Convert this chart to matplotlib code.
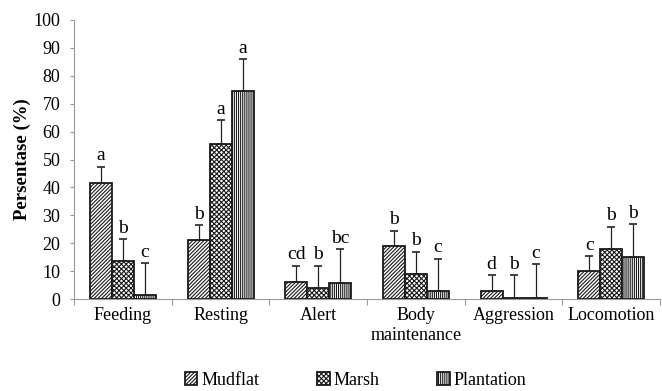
import numpy as np
import matplotlib
matplotlib.use("Agg")
import matplotlib.pyplot as plt

plt.rcParams['font.family'] = ['Liberation Serif', 'DejaVu Serif']
plt.rcParams['hatch.linewidth'] = 0.8

categories = ["Feeding", "Resting", "Alert", "Body\nmaintenance", "Aggression", "Locomotion"]
series = ["Mudflat", "Marsh", "Plantation"]
mudflat = [41.5, 21.0, 6.0, 19.0, 3.0, 10.0]
marsh = [13.5, 55.5, 4.0, 9.0, 0.3, 18.0]
plantation = [1.5, 74.5, 5.8, 3.0, 0.5, 15.0]
mudflat_err = [6.0, 5.5, 6.0, 5.5, 5.5, 5.5]
marsh_err = [8.0, 8.5, 8.0, 8.0, 8.2, 8.0]
plantation_err = [11.5, 11.5, 12.2, 11.5, 12.0, 12.0]
mudflat_lab = ["a", "b", "cd", "b", "d", "c"]
marsh_lab = ["b", "a", "b", "b", "b", "b"]
plantation_lab = ["c", "a", "bc", "c", "c", "b"]

values = [mudflat, marsh, plantation]
errors = [mudflat_err, marsh_err, plantation_err]
letters = [mudflat_lab, marsh_lab, plantation_lab]
hatches = ["/////////", "xxxxxxx", "||||||||"]

fig = plt.figure(figsize=(6.62, 3.91), dpi=100)
ax = fig.add_axes([0.112, 0.235, 0.885, 0.714])

x = np.arange(len(categories))
w = 0.225
for i in range(3):
    pos = x + (i - 1) * w
    ax.bar(pos, values[i], w, color="white", edgecolor="#1a1a1a", linewidth=1.3,
           hatch=hatches[i], label=series[i], zorder=2)
    ax.errorbar(pos, values[i], yerr=[np.zeros(len(x)), errors[i]], fmt="none",
                ecolor="#222222", elinewidth=0.9, capsize=3, capthick=1.2, zorder=3)
    for p, v, e, t in zip(pos, values[i], errors[i], letters[i]):
        ax.text(p, v + e + 0.8, t, ha="center", va="bottom", fontsize=14)

ax.set_xlim(-0.5, len(categories) - 0.5)
ax.set_ylim(0, 100)
ax.set_yticks(range(0, 101, 10))
ax.set_xticks(np.arange(-0.5, len(categories), 1))
ax.set_xticklabels([])
ax.set_xticks(x, minor=True)
ax.set_xticklabels(categories, minor=True, fontsize=13)
ax.tick_params(axis="x", which="minor", length=0, pad=6)
ax.tick_params(axis="x", which="major", length=4, color="#999999", direction="out")
ax.tick_params(axis="y", length=3, color="#999999", labelsize=13, pad=7)
ax.set_ylabel("Persentase (%)", fontsize=13.5, fontweight="bold", labelpad=2)
for s in ["top", "right"]:
    ax.spines[s].set_visible(False)
for s in ["left", "bottom"]:
    ax.spines[s].set_color("#999999")

ax.legend(loc="center", bbox_to_anchor=(0.48, -0.29), ncol=3, frameon=False,
          prop={"family": "Liberation Serif", "size": 13},
          handlelength=0.7, handleheight=0.7, handletextpad=0.2,
          columnspacing=3.2)

fig.savefig("out.png", dpi=100)
